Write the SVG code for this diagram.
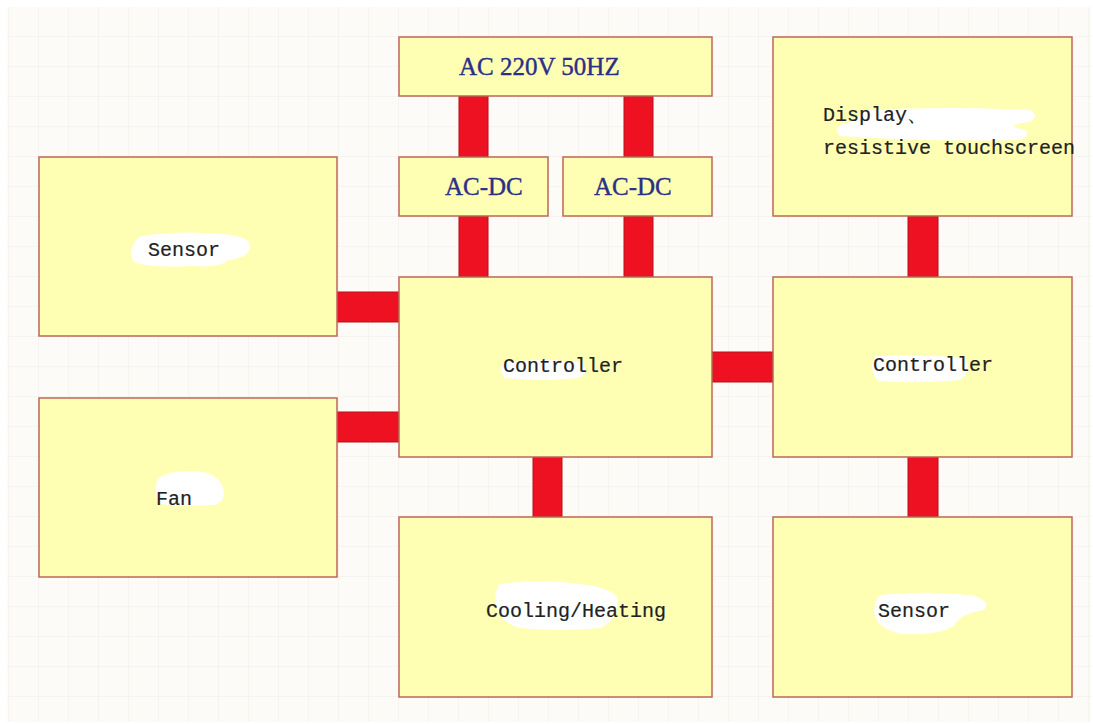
<svg xmlns="http://www.w3.org/2000/svg" width="1093" height="724" viewBox="0 0 1093 724">
<defs>
<pattern id="grid" x="9" y="7" width="30" height="30" patternUnits="userSpaceOnUse">
<path d="M30 0V30M0 30H30" fill="none" stroke="#efece6" stroke-width="1"/>
</pattern>
<style>
.box{fill:#ffffb3;stroke:#c0665a;stroke-width:1.5}
.wire{fill:#ee1122;stroke:#b8101c;stroke-width:1}
.blob{fill:#ffffff}
.mono{font-family:"Liberation Mono","DejaVu Sans Mono",monospace;font-size:20px;fill:#222;stroke:#222;stroke-width:0.2}
.serif{font-family:"Liberation Serif","Times New Roman",serif;font-size:25px;fill:#2b2f86;stroke:#2b2f86;stroke-width:0.4}
</style>
</defs>
<rect width="1093" height="724" fill="#ffffff"/>
<rect x="7" y="7" width="1084" height="715" fill="#fcfbf7"/>
<rect x="7" y="7" width="1084" height="715" fill="url(#grid)"/>
<g id="connectors">
<rect class="wire" x="459" y="96" width="29" height="61"/>
<rect class="wire" x="624" y="96" width="29" height="61"/>
<rect class="wire" x="459" y="216" width="29" height="61"/>
<rect class="wire" x="624" y="216" width="29" height="61"/>
<rect class="wire" x="337" y="292" width="62" height="30"/>
<rect class="wire" x="337" y="412" width="62" height="30"/>
<rect class="wire" x="712" y="352" width="61" height="30"/>
<rect class="wire" x="533" y="457" width="29" height="60"/>
<rect class="wire" x="908" y="216" width="30" height="61"/>
<rect class="wire" x="908" y="457" width="30" height="60"/>
</g>
<g id="ac220">
<rect class="box" x="399" y="37" width="313" height="59"/>
<text class="serif" x="459" y="75">AC 220V 50HZ</text>
</g>
<g id="acdc1">
<rect class="box" x="399" y="157" width="149" height="59"/>
<text class="serif" x="445" y="195">AC-DC</text>
</g>
<g id="acdc2">
<rect class="box" x="563" y="157" width="149" height="59"/>
<text class="serif" x="594" y="195">AC-DC</text>
</g>
<g id="sensor-left">
<rect class="box" x="39" y="157" width="298" height="179"/>
<path class="blob" d="M140 236 Q180 230 222 234 Q252 236 250 248 Q248 258 228 260 Q222 268 190 266 Q150 268 134 262 Q126 250 140 236Z"/>
<text class="mono" x="148" y="256">Sensor</text>
</g>
<g id="fan">
<rect class="box" x="39" y="398" width="298" height="179"/>
<path class="blob" d="M158 478 Q170 470 195 471 Q215 472 222 485 Q228 500 215 505 Q185 507 160 504 Q152 490 158 478Z"/>
<text class="mono" x="156" y="505">Fan</text>
</g>
<g id="controller-main">
<rect class="box" x="399" y="277" width="313" height="180"/>
<path class="blob" d="M505 362 Q540 358 580 362 Q592 372 578 378 Q540 382 505 378 Q496 370 505 362Z"/>
<text class="mono" x="503" y="372">Controller</text>
</g>
<g id="cooling-heating">
<rect class="box" x="399" y="517" width="313" height="180"/>
<path class="blob" d="M500 584 Q540 578 580 584 Q615 588 618 600 Q618 620 600 628 Q560 632 520 628 Q498 622 496 605 Q494 590 500 584Z"/>
<text class="mono" x="486" y="617">Cooling/Heating</text>
</g>
<g id="display">
<rect class="box" x="773" y="37" width="299" height="179"/>
<path class="blob" d="M868 110 Q950 106 1030 110 Q1040 116 1030 122 Q1000 126 1026 130 Q1030 138 1018 140 Q930 142 840 136 Q830 126 850 122 Q860 114 868 110Z"/>
<text class="mono" x="823" y="121">Display、</text>
<text class="mono" x="823" y="154">resistive touchscreen</text>
</g>
<g id="controller-right">
<rect class="box" x="773" y="277" width="299" height="180"/>
<path class="blob" d="M875 356 Q920 354 965 358 Q972 372 960 380 Q920 384 878 381 Q868 370 875 356Z"/>
<text class="mono" x="873" y="371">Controller</text>
</g>
<g id="sensor-right">
<rect class="box" x="773" y="517" width="299" height="180"/>
<path class="blob" d="M880 595 Q930 590 975 596 Q992 602 984 610 Q960 614 955 625 Q940 636 900 634 Q876 628 874 612 Q874 600 880 595Z"/>
<text class="mono" x="878" y="617">Sensor</text>
</g>
</svg>
